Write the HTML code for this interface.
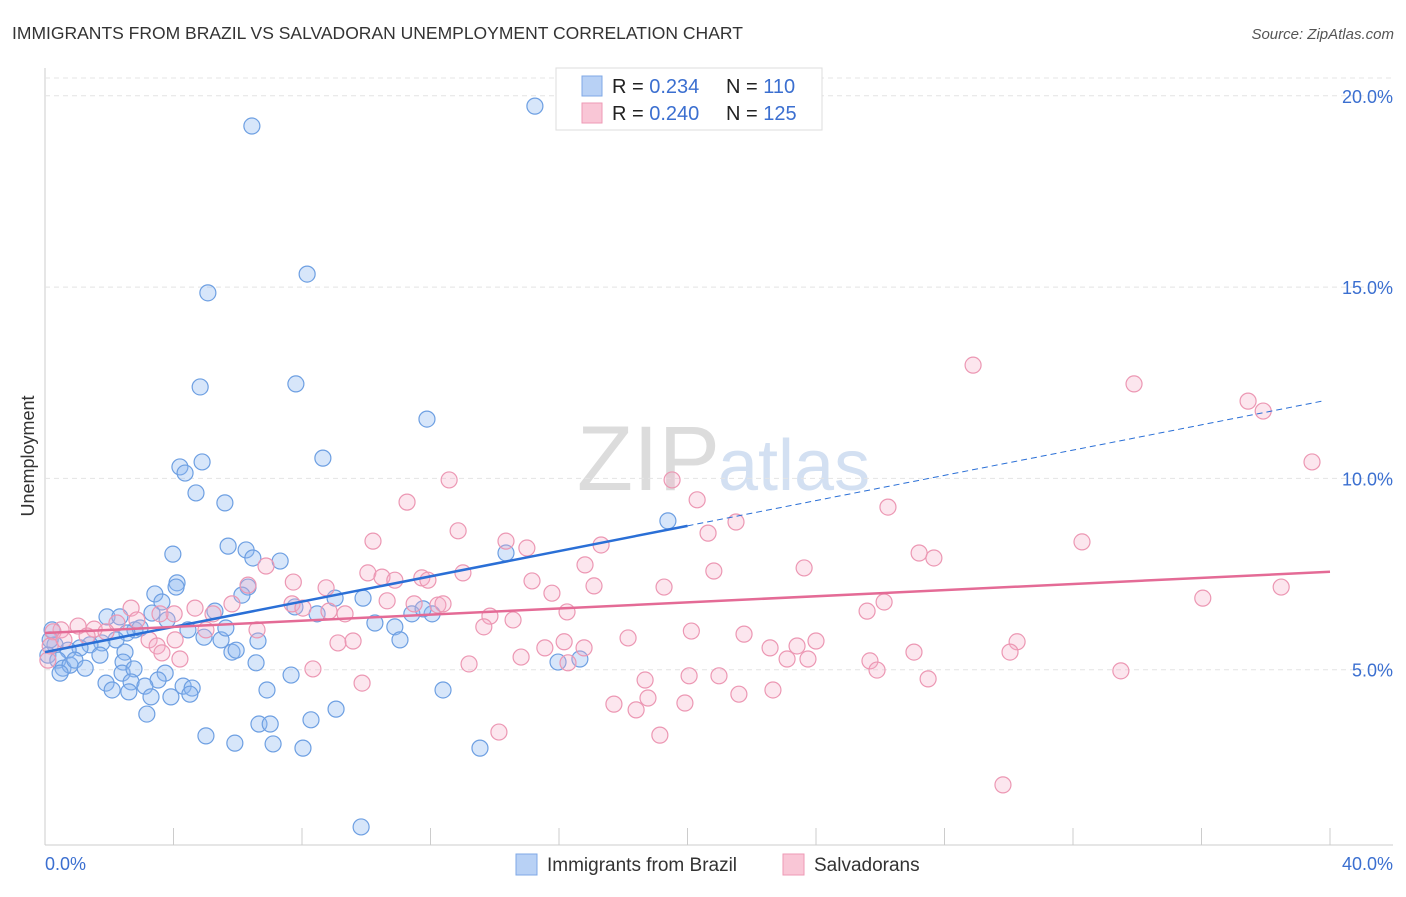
<!DOCTYPE html>
<html><head><meta charset="utf-8"><style>
body{margin:0;background:#fff;font-family:"Liberation Sans",sans-serif;}
svg text{font-family:"Liberation Sans",sans-serif;}
</style></head><body>
<svg id="chart" width="1406" height="892">
<text x="12" y="39" font-size="17.5" fill="#333">IMMIGRANTS FROM BRAZIL VS SALVADORAN UNEMPLOYMENT CORRELATION CHART</text>
<text x="1394" y="39" font-size="15" fill="#555" font-style="italic" text-anchor="end">Source: ZipAtlas.com</text>
<text x="720" y="490" font-size="92" fill="#dcdcdc" text-anchor="end" font-family="Liberation Serif">ZIP</text>
<text x="718" y="490" font-size="72" fill="#d3e0f2">atlas</text>
<text transform="translate(34,456) rotate(-90)" font-size="18" fill="#333" text-anchor="middle">Unemployment</text>
<g id="grid"></g><g id="pts"></g><g id="lines"></g>
<g>
<rect x="556" y="68" width="266" height="62" fill="#fff" stroke="#ddd"/>
<rect x="582" y="76" width="20" height="20" fill="#b8d1f5" stroke="#7fa8e6"/>
<rect x="582" y="103" width="20" height="20" fill="#f9c6d6" stroke="#ee9ab5"/>
<text x="612" y="93" font-size="20" fill="#222">R = <tspan fill="#3b6fd0">0.234</tspan></text>
<text x="726" y="93" font-size="20" fill="#222">N = <tspan fill="#3b6fd0">110</tspan></text>
<text x="612" y="120" font-size="20" fill="#222">R = <tspan fill="#3b6fd0">0.240</tspan></text>
<text x="726" y="120" font-size="20" fill="#222">N = <tspan fill="#3b6fd0">125</tspan></text>
</g>
<g>
<rect x="516" y="854" width="21" height="21" fill="#b8d1f5" stroke="#7fa8e6"/>
<text x="547" y="871" font-size="19" fill="#333">Immigrants from Brazil</text>
<rect x="783" y="854" width="21" height="21" fill="#f9c6d6" stroke="#ee9ab5"/>
<text x="814" y="871" font-size="19" fill="#333">Salvadorans</text>
</g>
<text x="45" y="870" font-size="18" fill="#3b6fd0">0.0%</text>
<text x="1393" y="870" font-size="18" fill="#3b6fd0" text-anchor="end">40.0%</text>
</svg>
<script>
const yTicks=[5,10,15,20];
const xTickVals=[0,4,8,12,16,20,24,28,32,36,40];
const blueX=[15.25,6.44,8.16,5.07,4.83,7.81,11.89,8.65,4.89,4.2,4.36,4.70,5.60,19.39,5.70,6.26,3.98,7.32,14.35,4.11,3.42,4.08,3.64,3.33,6.32,6.13,9.03,9.90,5.29,8.47,7.78,1.93,2.33,3.80,11.42,12.05,11.77,10.27,10.89,4.45,4.95,5.48,5.63,6.63,2.80,2.96,2.55,2.21,1.77,1.40,1.09,0.72,0.31,0.22,0.16,0.09,0.40,0.56,0.78,0.93,1.25,0.47,2.49,1.71,2.43,5.82,5.95,6.57,2.40,2.77,3.74,3.52,1.90,2.09,2.68,3.11,4.30,4.58,2.61,3.30,3.92,4.51,6.91,7.66,12.39,3.17,9.06,8.28,6.66,7.01,5.01,5.91,7.10,8.03,13.54,9.84,15.97,16.65,11.05,6.47];
const blueY=[19.73,19.21,15.34,14.85,12.39,12.47,11.55,10.53,10.43,10.30,10.14,9.62,9.36,8.89,8.23,8.13,8.02,7.84,8.05,7.27,6.98,7.16,6.77,6.48,7.16,6.95,6.87,6.87,6.53,6.46,6.64,6.38,6.38,6.30,6.46,6.46,6.59,6.22,6.12,6.04,5.85,5.78,6.09,5.75,6.04,6.09,5.96,5.78,5.70,5.65,5.57,5.51,5.65,6.04,5.78,5.38,5.25,5.04,5.12,5.25,5.04,4.91,5.46,5.38,5.20,5.46,5.51,5.18,4.91,5.02,4.91,4.73,4.65,4.47,4.68,4.57,4.57,4.52,4.42,4.29,4.29,4.36,4.47,4.86,4.47,3.84,3.97,3.69,3.58,3.58,3.27,3.08,3.06,2.95,2.95,0.89,5.20,5.28,5.78,7.92];
const pinkX=[28.89,33.90,37.45,37.92,39.44,19.52,12.58,11.27,20.30,26.24,21.51,12.86,20.64,32.28,10.21,14.35,15.00,17.31,27.21,27.67,16.81,20.82,23.63,6.88,10.05,10.49,10.89,11.73,11.92,13.01,15.16,7.73,6.32,8.75,15.78,17.09,19.27,38.48,36.04,26.12,25.59,10.65,11.49,12.23,12.39,7.69,8.03,8.84,9.34,13.85,14.57,16.25,13.66,5.82,5.23,4.67,4.02,3.58,2.68,2.86,2.24,1.53,1.03,0.50,0.25,0.59,1.31,1.90,3.24,3.49,4.05,5.01,6.60,0.16,0.09,3.64,4.20,9.12,9.59,16.16,18.15,20.12,21.76,24.00,30.26,15.56,16.78,22.57,23.41,27.05,30.04,14.82,23.10,23.75,25.68,25.90,13.20,16.28,8.34,18.68,20.05,20.98,27.49,33.49,9.87,21.60,22.66,18.77,17.71,18.40,19.92,14.13,19.14,29.82];
const pinkY=[12.96,12.47,12.02,11.76,10.43,9.96,9.96,9.38,9.44,9.25,8.86,8.63,8.57,8.34,8.36,8.36,8.18,8.26,8.05,7.92,7.74,7.58,7.66,7.71,7.53,7.42,7.34,7.40,7.34,7.53,7.32,7.29,7.21,7.14,7.00,7.19,7.16,7.16,6.87,6.77,6.53,6.80,6.72,6.69,6.72,6.72,6.61,6.53,6.46,6.40,6.30,6.51,6.12,6.72,6.46,6.61,6.46,6.46,6.61,6.30,6.22,6.06,6.14,6.04,5.99,5.78,5.88,5.99,5.78,5.62,5.78,6.04,6.04,5.62,5.25,5.44,5.28,5.70,5.75,5.73,5.83,6.01,5.93,5.75,5.73,5.57,5.57,5.57,5.62,5.46,5.46,5.33,5.28,5.28,5.23,4.99,5.15,5.18,5.02,4.73,4.84,4.84,4.76,4.97,4.65,4.36,4.47,4.26,4.10,3.95,4.13,3.37,3.29,1.99];
const blueTrend=[5.46,0.165];
const pinkTrend=[5.96,0.04];
const NS='http://www.w3.org/2000/svg';
const sx=v=>45+v*32.125;
const sy=v=>861-v*38.26;
function mk(tag,attrs,parent){const e=document.createElementNS(NS,tag);for(const k in attrs)e.setAttribute(k,attrs[k]);parent.appendChild(e);return e;}
const grid=document.getElementById('grid');
let ax=mk('line',{x1:45,x2:45,y1:68,y2:845,stroke:'#ccc'},grid);


let bx=mk('line',{x1:45,x2:1393,y1:845,y2:845,stroke:'#ccc'},grid);


mk('line',{x1:45,x2:1393,y1:78,y2:78,stroke:'#e4e4e4','stroke-dasharray':'5,4'},grid);
yTicks.forEach(t=>{
 const g=mk('line',{x1:45,x2:1393,y1:sy(t),y2:sy(t),stroke:'#e4e4e4','stroke-dasharray':'5,4'},grid);
 
 
 const l=mk('text',{x:1393,y:sy(t)+7,'font-size':18,fill:'#3b6fd0','text-anchor':'end'},grid);
 l.textContent=t.toFixed(1)+'%';
 
 
});
xTickVals.forEach(t=>{
 const k=mk('line',{x1:sx(t),x2:sx(t),y1:828,y2:845,stroke:'#ccc'},grid);
 
 
});
const pts=document.getElementById('pts');
blueX.forEach((x,i)=>{
 const c=mk('circle',{cx:sx(x),cy:sy(blueY[i]),r:8,fill:'rgba(140,182,240,0.35)',stroke:'#6d9fe2','stroke-width':1.2},pts);
 
 
});
pinkX.forEach((x,i)=>{
 const c=mk('circle',{cx:sx(x),cy:sy(pinkY[i]),r:8,fill:'rgba(246,172,198,0.3)',stroke:'#ec97b3','stroke-width':1.2},pts);
 
 
});
const lines=document.getElementById('lines');
const bf=x=>blueTrend[0]+blueTrend[1]*x, pf=x=>pinkTrend[0]+pinkTrend[1]*x;
let l1=mk('line',{x1:sx(0),y1:sy(bf(0)),x2:sx(20),y2:sy(bf(20)),stroke:'#2a6fd6','stroke-width':2.5},lines);


let l2=mk('line',{x1:sx(20),y1:sy(bf(20)),x2:sx(39.8),y2:sy(bf(39.8)),stroke:'#2a6fd6','stroke-width':1,'stroke-dasharray':'6,4'},lines);


let l3=mk('line',{x1:sx(0),y1:sy(pf(0)),x2:sx(40),y2:sy(pf(40)),stroke:'#e46b96','stroke-width':2.5},lines);


</script>
</body></html>
